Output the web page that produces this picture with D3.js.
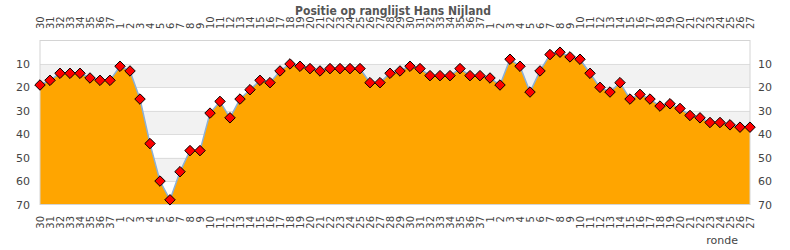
<!DOCTYPE html>
<html>
<head>
<meta charset="utf-8">
<script src="https://cdn.jsdelivr.net/npm/d3@7"></script>
<style>
  body { margin: 0; background: #fff; }
  svg text { font-family: "DejaVu Sans", sans-serif; }
</style>
</head>
<body>
<svg></svg>
<script>
// ronde labels (week numbers) and position on the ranking list
var rondes = ['30','31','32','33','34','35','36','37',
  '1','2','3','4','5','6','7','8','9','10','11','12','13','14','15','16','17','18','19','20',
  '21','22','23','24','25','26','27','28','29','30','31','32','33','34','35','36','37',
  '1','2','3','4','5','6','7','8','9','10','11','12','13','14','15','16','17','18','19','20',
  '21','22','23','24','25','26','27'];
var posities = [19,17,14,14,14,16,17,17,11,13,25,44,60,68,56,47,47,31,26,33,25,21,17,18,13,10,11,12,13,12,
  12,12,12,18,18,14,13,11,12,15,15,15,12,15,15,16,19,8,11,22,13,6,5,7,8,14,20,22,18,25,
  23,25,28,27,29,32,33,35,35,36,37,37];
var yTicks = [10,20,30,40,50,60,70];
var title = 'Positie op ranglijst Hans Nijland';

var svgWidth = 790, svgHeight = 250;
var plotLeft = 40, plotRight = 750, plotTop = 40.5, plotBottom = 204.5;

var svg = d3.select('svg')
    .attr('width', svgWidth)
    .attr('height', svgHeight);

var idx = d3.range(rondes.length);

var xScale = d3.scalePoint()
    .domain(idx)
    .range([plotLeft, plotRight]);

var yScale = d3.scaleLinear()
    .domain([0, 70])
    .range([plotTop, plotBottom]);

// alternating bands
svg.selectAll('rect.band')
    .data([10, 30, 50])
    .enter()
    .append('rect')
    .attr('x', plotLeft)
    .attr('width', plotRight - plotLeft)
    .attr('y', function(d) { return yScale(d); })
    .attr('height', function(d) { return yScale(d + 10) - yScale(d); })
    .attr('fill', '#f2f2f2');

// grid lines
svg.selectAll('line.grid')
    .data(yTicks.slice(0, -1))
    .enter()
    .append('line')
    .attr('x1', plotLeft).attr('x2', plotRight)
    .attr('y1', function(d) { return Math.round(yScale(d)) + 0.5; })
    .attr('y2', function(d) { return Math.round(yScale(d)) + 0.5; })
    .attr('stroke', '#dddddd');

var area = d3.area()
    .x(function(d, i) { return xScale(i); })
    .y0(yScale(70))
    .y1(function(d) { return yScale(d); });

svg.append('path')
    .datum(posities)
    .attr('d', area)
    .attr('fill', '#ffa500');

var line = d3.line()
    .x(function(d, i) { return xScale(i); })
    .y(function(d) { return yScale(d); });

svg.append('path')
    .datum(posities)
    .attr('d', line)
    .attr('fill', 'none')
    .attr('stroke', '#8ab0d8')
    .attr('stroke-width', 1.5);

// plot border
svg.append('rect')
    .attr('x', plotLeft).attr('y', plotTop)
    .attr('width', plotRight - plotLeft).attr('height', plotBottom - plotTop)
    .attr('fill', 'none')
    .attr('stroke', '#d4d4d4');

// markers
var diamond = d3.symbol().type(d3.symbolDiamond2).size(70);
svg.selectAll('path.marker')
    .data(posities)
    .enter()
    .append('path')
    .attr('class', 'marker')
    .attr('d', diamond)
    .attr('transform', function(d, i) {
        return 'translate(' + xScale(i) + ',' + yScale(d) + ')';
    })
    .attr('fill', '#ff0000')
    .attr('stroke', '#000')
    .attr('stroke-width', 1);

// y axes, left and right
var yAxisL = d3.axisLeft(yScale).tickValues(yTicks).tickSize(0).tickPadding(10);
var yAxisR = d3.axisRight(yScale).tickValues(yTicks).tickSize(0).tickPadding(8);

[[yAxisL, plotLeft], [yAxisR, plotRight]].forEach(function(a) {
    var g = svg.append('g')
        .attr('transform', 'translate(' + a[1] + ',0)')
        .call(a[0]);
    g.select('.domain').remove();
    g.selectAll('text')
        .attr('font-size', 11)
        .attr('fill', '#444');
});

// x labels, bottom and top, rotated
svg.selectAll('text.xb')
    .data(rondes)
    .enter()
    .append('text')
    .attr('class', 'xb')
    .text(function(d) { return d; })
    .attr('transform', function(d, i) {
        return 'translate(' + (xScale(i) + 4) + ',' + 216 + ') rotate(-90)';
    })
    .attr('text-anchor', 'end')
    .attr('font-size', 10)
    .attr('fill', '#444');

svg.selectAll('text.xt')
    .data(rondes)
    .enter()
    .append('text')
    .attr('class', 'xt')
    .text(function(d) { return d; })
    .attr('transform', function(d, i) {
        return 'translate(' + (xScale(i) + 4) + ',' + 29 + ') rotate(-90)';
    })
    .attr('text-anchor', 'start')
    .attr('font-size', 10)
    .attr('fill', '#444');

svg.append('text')
    .text(title)
    .attr('x', 393)
    .attr('y', 15)
    .attr('text-anchor', 'middle')
    .attr('font-size', 12)
    .attr('font-weight', 'bold')
    .style('font-stretch', 'condensed')
    .style('font-family', '"DejaVu Sans Condensed", "DejaVu Sans", sans-serif')
    .attr('fill', '#555');

svg.append('text')
    .text('ronde')
    .attr('x', 738)
    .attr('y', 244)
    .attr('text-anchor', 'end')
    .attr('font-size', 11)
    .attr('fill', '#444');
</script>
</body>
</html>
